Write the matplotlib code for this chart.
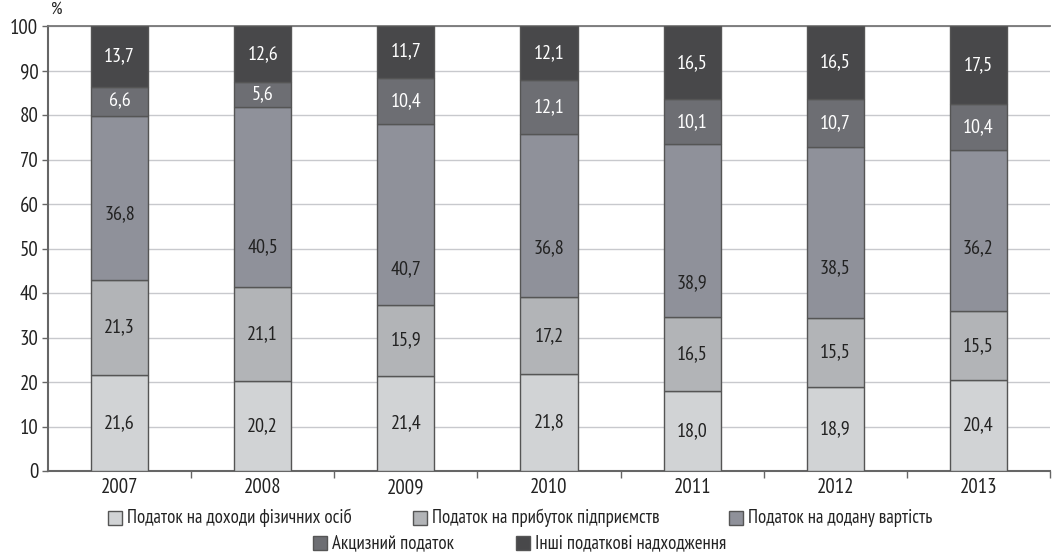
import matplotlib
matplotlib.use("Agg")
import matplotlib.pyplot as plt
from matplotlib import font_manager
from matplotlib.patches import Rectangle

# a narrow sans with Cyrillic glyphs, first one found
_available = {f.name for f in font_manager.fontManager.ttflist}
_narrow = [n for n in ['PT Sans Narrow', 'Fira Sans Condensed', 'Roboto Condensed',
                       'Open Sans Condensed', 'Ubuntu Condensed', 'Liberation Sans Narrow',
                       'Archivo Narrow', 'IBM Plex Sans Condensed']
           if n in _available]
plt.rcParams['font.family'] = _narrow[:1] + ['DejaVu Sans']

years = ['2007', '2008', '2009', '2010', '2011', '2012', '2013']
pdfo = [21.6, 20.2, 21.4, 21.8, 18.0, 18.9, 20.4]
profit = [21.3, 21.1, 15.9, 17.2, 16.5, 15.5, 15.5]
vat = [36.8, 40.5, 40.7, 36.8, 38.9, 38.5, 36.2]
excise = [6.6, 5.6, 10.4, 12.1, 10.1, 10.7, 10.4]
other = [13.7, 12.6, 11.7, 12.1, 16.5, 16.5, 17.5]

names = ['Податок на доходи фізичних осіб', 'Податок на прибуток підприємств',
         'Податок на додану вартість', 'Акцизний податок', 'Інші податкові надходження']
colors = ['#d1d3d5', '#b2b4b7', '#8f919a', '#6d6e73', '#48484a']
text_colors = ['#222222', '#222222', '#222222', 'white', 'white']
# where the label sits inside each VAT segment (fraction of its height from the bottom)
vat_label_frac = [0.40, 0.22, 0.20, 0.30, 0.20, 0.29, 0.39]

series = [pdfo, profit, vat, excise, other]

fig = plt.figure(figsize=(10.61, 5.55), dpi=100)
ax = fig.add_axes([48 / 1061, 1 - 471 / 555, (1050 - 48) / 1061, (471 - 26) / 555])

x = list(range(len(years)))
bottoms = [0.0] * len(years)
for k, (vals, col, tcol) in enumerate(zip(series, colors, text_colors)):
    ax.bar(x, vals, width=0.4, bottom=bottoms, color=col, edgecolor='#555555',
           linewidth=1.0, zorder=3)
    for i, v in enumerate(vals):
        frac = vat_label_frac[i] if k == 2 else 0.5
        ax.text(i, bottoms[i] + v * frac, f"{v:.1f}".replace('.', ','),
                ha='center', va='center', fontsize=14.5, color=tcol, zorder=4)
    bottoms = [b + v for b, v in zip(bottoms, vals)]

ax.set_xlim(-0.5, len(years) - 0.5)
ax.set_ylim(0, 100)
ax.set_yticks(range(0, 101, 10))
ax.set_xticks(x)
ax.set_xticklabels(years)
ax.set_xticks([i - 0.5 for i in range(1, len(years) + 1)], minor=True)
ax.tick_params(axis='x', which='major', length=0, pad=5, labelsize=15, colors='#222222')
ax.tick_params(axis='x', which='minor', length=5, width=1.0, color='#666666', direction='out')
ax.tick_params(axis='y', length=4, width=1.0, color='#666666', pad=3, labelsize=15,
               labelcolor='#222222')

ax.grid(axis='y', color='#c8c9cd', linewidth=1.0, zorder=0)
ax.set_axisbelow(True)
for side in ['left', 'bottom']:
    ax.spines[side].set_color('#666666')
    ax.spines[side].set_linewidth(1.5)
ax.spines['top'].set_color('#777777')
ax.spines['top'].set_linewidth(1.3)
ax.spines['right'].set_visible(False)

fig.text(51 / 1061, 1 - 10 / 555, '%', fontsize=13, style='italic', color='#222222',
         ha='left', va='center')

# legend, two centred rows
legend_rows = [
    [(108, 518, 0), (413, 518, 1), (729, 518, 2)],
    [(313, 543, 3), (516, 543, 4)],
]
W, H = 1061, 555
for row in legend_rows:
    for px, py, k in row:
        fig.add_artist(Rectangle((px / W, (H - py - 7) / H), 14 / W, 14 / H,
                                 transform=fig.transFigure, facecolor=colors[k],
                                 edgecolor='#555555', linewidth=1.0))
        fig.text((px + 19) / W, (H - py) / H, names[k], fontsize=13.5, color='#222222',
                 ha='left', va='center')

fig.savefig('out.png', dpi=100)
